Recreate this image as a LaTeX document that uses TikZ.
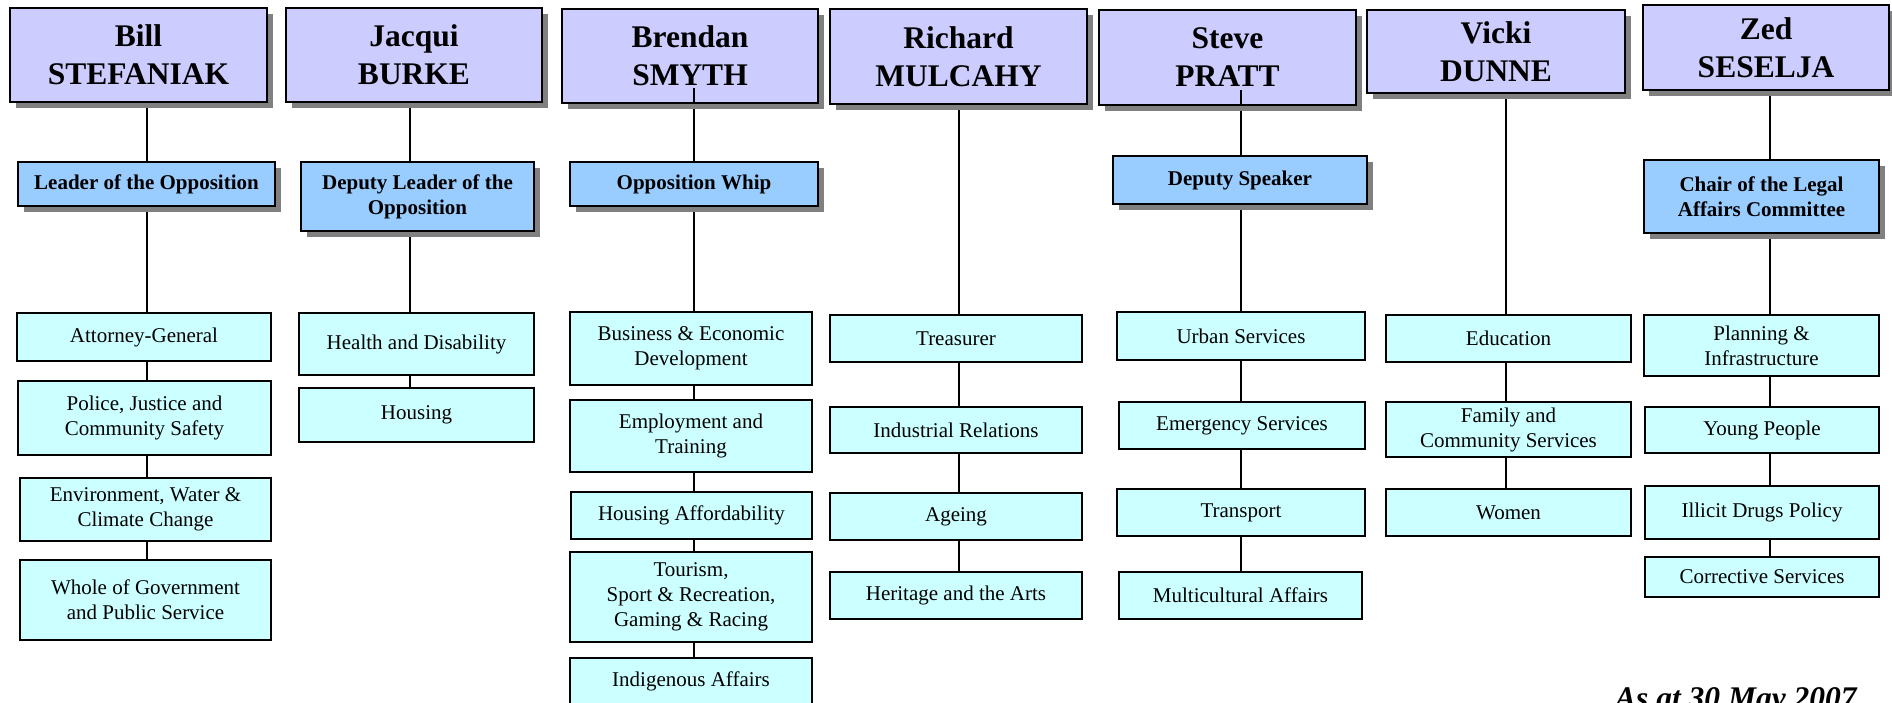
\documentclass[tikz,border=0pt]{standalone}
\usepackage{fontspec}
\setmainfont{Liberation Serif}
\usetikzlibrary{shadows,backgrounds}
\definecolor{namefill}{HTML}{CCCCFF}
\definecolor{rolefill}{HTML}{99CCFF}
\definecolor{portfill}{HTML}{CCFFFF}
\definecolor{shgray}{HTML}{808080}
\newcommand\mybox[7]{\node[#1, minimum width={(#4-#3)*1pt}, minimum height={(#6-#5)*1pt}] (#2) at ({(#3+#4)/2},{(#5+#6)/2}) {#7};}
\tikzset{
  basebox/.style={draw=black, line width=2pt, rectangle, inner sep=0pt, align=center, text=black},
  namebox/.style={basebox, fill=namefill, font=\fontsize{31.5}{38}\selectfont\bfseries,
    drop shadow={shadow xshift=6pt, shadow yshift=-6pt, fill=shgray, opacity=1}},
  rolebox/.style={basebox, fill=rolefill, font=\fontsize{21}{25}\selectfont\bfseries,
    drop shadow={shadow xshift=6pt, shadow yshift=-6pt, fill=shgray, opacity=1}},
  portbox/.style={basebox, fill=portfill, font=\fontsize{21}{25}\selectfont},
  link/.style={draw=black, line width=2pt},
}
\begin{document}
\begin{tikzpicture}[x=1pt, y=-1pt]
\useasboundingbox (0,0) rectangle (1892,702);
% column line positions
\coordinate (c1) at (147,0);
\coordinate (c2) at (410,0);
\coordinate (c3) at (694,0);
\coordinate (c4) at (959,0);
\coordinate (c5) at (1241,0);
\coordinate (c6) at (1506,0);
\coordinate (c7) at (1770,0);
% column 1
\mybox{namebox}{n1}{10}{267}{8}{102}{Bill\\STEFANIAK}
\mybox{rolebox}{r1}{18}{275}{162}{206}{Leader of the Opposition}
\mybox{portbox}{p1a}{17}{271}{313}{361}{Attorney-General}
\mybox{portbox}{p1b}{18}{271}{381}{455}{Police, Justice and\\Community Safety}
\mybox{portbox}{p1c}{20}{271}{478}{541}{Environment, Water \&\\Climate Change}
\mybox{portbox}{p1d}{20}{271}{560}{640}{Whole of Government\\and Public Service}
% column 2
\mybox{namebox}{n2}{286}{542}{8}{102}{Jacqui\\BURKE}
\mybox{rolebox}{r2}{301}{534}{162}{231}{Deputy Leader of the\\Opposition}
\mybox{portbox}{p2a}{299}{534}{313}{375}{Health and Disability}
\mybox{portbox}{p2b}{299}{534}{388}{442}{Housing}
% column 3
\mybox{namebox}{n3}{562}{818}{9}{103}{Brendan\\SMYTH}
\mybox{rolebox}{r3}{570}{818}{162}{206}{Opposition Whip}
\mybox{portbox}{p3a}{570}{812}{312}{385}{Business \& Economic\\Development}
\mybox{portbox}{p3b}{570}{812}{400}{472}{Employment and\\Training}
\mybox{portbox}{p3c}{571}{812}{492}{539}{Housing Affordability}
\mybox{portbox}{p3d}{570}{812}{552}{642}{Tourism,\\Sport \& Recreation,\\Gaming \& Racing}
\mybox{portbox}{p3e}{570}{812}{658}{705}{Indigenous Affairs}
% column 4
\mybox{namebox}{n4}{830}{1087}{9}{104}{Richard\\MULCAHY}
\mybox{portbox}{p4a}{830}{1082}{315}{362}{Treasurer}
\mybox{portbox}{p4b}{830}{1082}{407}{453}{Industrial Relations}
\mybox{portbox}{p4c}{830}{1082}{493}{540}{Ageing}
\mybox{portbox}{p4d}{830}{1082}{572}{619}{Heritage and the Arts}
% column 5
\mybox{namebox}{n5}{1099}{1356}{10}{105}{Steve\\PRATT}
\mybox{rolebox}{r5}{1113}{1367}{156}{204}{Deputy Speaker}
\mybox{portbox}{p5a}{1117}{1365}{312}{360}{Urban Services}
\mybox{portbox}{p5b}{1119}{1365}{402}{449}{Emergency Services}
\mybox{portbox}{p5c}{1117}{1365}{489}{536}{Transport}
\mybox{portbox}{p5d}{1119}{1362}{572}{619}{Multicultural Affairs}
% column 6
\mybox{namebox}{n6}{1367}{1625}{10}{93}{Vicki\\DUNNE}
\mybox{portbox}{p6a}{1386}{1631}{315}{362}{Education}
\mybox{portbox}{p6b}{1386}{1631}{402}{457}{Family and\\Community Services}
\mybox{portbox}{p6c}{1386}{1631}{489}{536}{Women}
% column 7
\mybox{namebox}{n7}{1643}{1889}{5}{90}{Zed\\SESELJA}
\mybox{rolebox}{r7}{1644}{1879}{160}{233}{Chair of the Legal\\Affairs Committee}
\mybox{portbox}{p7a}{1644}{1879}{315}{376}{Planning \&\\Infrastructure}
\mybox{portbox}{p7b}{1645}{1879}{407}{453}{Young People}
\mybox{portbox}{p7c}{1645}{1879}{486}{539}{Illicit Drugs Policy}
\mybox{portbox}{p7d}{1645}{1879}{557}{597}{Corrective Services}
% connectors
\begin{scope}[on background layer]
\fill[white] (0,0) rectangle (1892,702);
\draw[link] (n1.south -| c1) -- (p1d.north -| c1);
\draw[link] (n2.south -| c2) -- (p2b.north -| c2);
\draw[link] (n3.south -| c3) -- (p3e.north -| c3);
\draw[link] (n4.south -| c4) -- (p4d.north -| c4);
\draw[link] (n5.south -| c5) -- (p5d.north -| c5);
\draw[link] (n6.south -| c6) -- (p6c.north -| c6);
\draw[link] (n7.south -| c7) -- (p7d.north -| c7);
\end{scope}
\coordinate (t3) at (694,88);
\coordinate (t5) at (1241,90);
\draw[link] (t3) -- (n3.south -| t3);
\draw[link] (t5) -- (n5.south -| t5);
% date
\node[anchor=base west, inner sep=0pt, font=\fontsize{31.5}{38}\selectfont\bfseries\itshape] (date) at (1615,708) {As at 30 May 2007};
\end{tikzpicture}
\end{document}
